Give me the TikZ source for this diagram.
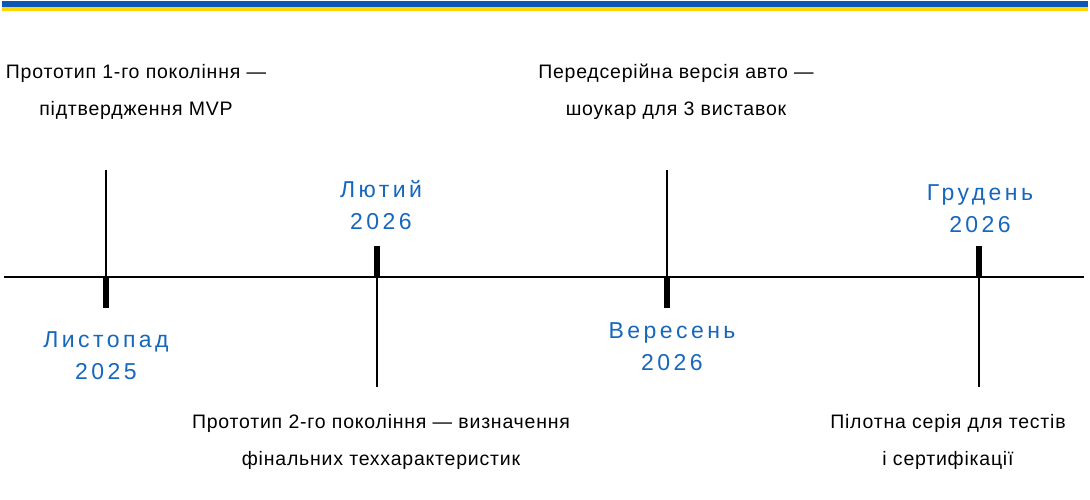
\documentclass[tikz,border=0pt]{standalone}
\usepackage{fontspec}
\setmainfont{Liberation Sans}
\newfontfamily\blackfont[LetterSpace=4]{Liberation Sans}
\newfontfamily\bluefont[LetterSpace=15]{Liberation Sans}
\definecolor{uablue}{HTML}{0B57B5}
\definecolor{uayellow}{HTML}{FFD500}
\definecolor{datecol}{HTML}{1767BD}
\tikzset{
  axisline/.style={line width=2pt, black},
  thinmark/.style={line width=2.2pt, black},
  thickmark/.style={line width=6pt, black},
  desc/.style={align=center, text=black, font=\blackfont\fontsize{19.5}{36.5}\selectfont, inner sep=0pt},
  datelbl/.style={align=center, text=datecol, font=\bluefont\fontsize{23}{32}\selectfont, inner sep=0pt},
}
\begin{document}
\begin{tikzpicture}[x=1pt,y=-1pt]
\useasboundingbox (0,0) rectangle (1090,499);
\fill[white] (0,0) rectangle (1090,499);
% flag stripes
\fill[uablue] (2,1) rectangle (1088,6.5);
\fill[uayellow] (2,6.5) rectangle (1088,11);
% axis
\coordinate (axL) at (4,277);
\coordinate (axR) at (1084,277);
\draw[axisline] (axL) -- (axR);
% marker 1
\coordinate (m1) at (106,277);
\coordinate (m1t) at (106,170);
\coordinate (m1b) at (106,308);
\draw[thinmark] (m1t) -- (m1);
\draw[thickmark] (m1) -- (m1b);
% marker 2
\coordinate (m2) at (377,277);
\coordinate (m2t) at (377,246);
\coordinate (m2b) at (377,387);
\draw[thickmark] (m2t) -- (m2);
\draw[thinmark] (m2) -- (m2b);
% marker 3
\coordinate (m3) at (667,277);
\coordinate (m3t) at (667,170);
\coordinate (m3b) at (667,308);
\draw[thinmark] (m3t) -- (m3);
\draw[thickmark] (m3) -- (m3b);
% marker 4
\coordinate (m4) at (979,277);
\coordinate (m4t) at (979,246);
\coordinate (m4b) at (979,387);
\draw[thickmark] (m4t) -- (m4);
\draw[thinmark] (m4) -- (m4b);
% descriptions
\node[desc] (d1) at (136,92) {Прототип 1-го покоління —\\підтвердження MVP};
\node[desc] (d3) at (676,92) {Передсерійна версія авто —\\шоукар для 3 виставок};
\node[desc] (d2) at (381,442) {Прототип 2-го покоління — визначення\\фінальних теххарактеристик};
\node[desc] (d4) at (948,442) {Пілотна серія для тестів\\і сертифікації};
% dates
\node[datelbl] (t1) at (106,356) {Листопад\\2025};
\node[datelbl] (t2) at (381,205) {Лютий\\2026};
\node[datelbl] (t3) at (672,347) {Вересень\\2026};
\node[datelbl] (t4) at (980,209) {Грудень\\2026};
\end{tikzpicture}
\end{document}
